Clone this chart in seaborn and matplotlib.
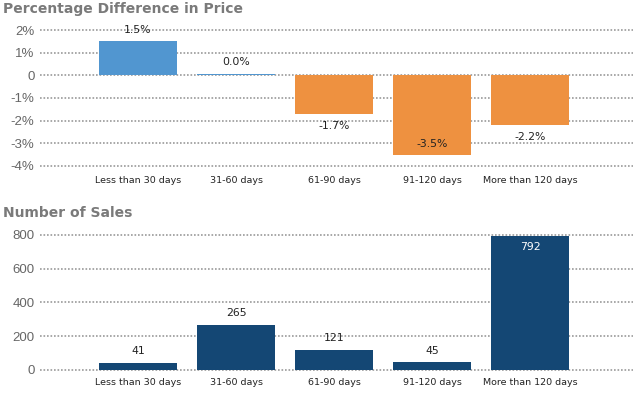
import matplotlib
matplotlib.use('Agg')
import matplotlib.pyplot as plt
import seaborn as sns
import numpy as np

# data
categories = ['Less than 30 days', '31-60 days', '61-90 days', '91-120 days', 'More than 120 days']
pct_diff = [1.5, 0.07, -1.7, -3.5, -2.2]
pct_labels = ['1.5%', '0.0%', '-1.7%', '-3.5%', '-2.2%']
sales = [41, 265, 121, 45, 792]
pct_ticks = [2, 1, 0, -1, -2, -3, -4]
pct_tick_labels = ['2%', '1%', '0', '-1%', '-2%', '-3%', '-4%']
sales_ticks = [0, 200, 400, 600, 800]

BLUE = '#5196D0'
ORANGE = '#EE9140'
NAVY = '#144774'
GRID = '#9a9a9a'

sns.set_theme(style='white')
plt.rcParams['font.family'] = ['DejaVu Sans']

fig = plt.figure(figsize=(6.33, 4.0), dpi=100)
ax1 = fig.add_axes([40 / 633, 1 - 170.5 / 400, 593 / 633, 145 / 400])
ax2 = fig.add_axes([40 / 633, 1 - 372.5 / 400, 593 / 633, 142.6 / 400])


def style_axis(ax):
    for s in ax.spines.values():
        s.set_visible(False)
    ax.set_axisbelow(True)
    ax.yaxis.grid(True, color=GRID, linestyle=(0, (1, 1.1)), linewidth=1.2)
    ax.xaxis.grid(False)
    ax.tick_params(axis='y', length=0, pad=4, labelsize=9.5, labelcolor='#666666')
    ax.tick_params(axis='x', length=0, labelsize=6.8, labelcolor='#222222')
    for lbl in ax.get_yticklabels():
        lbl.set_family('Liberation Sans')
    ax.set_xlabel('')
    ax.set_ylabel('')
    ax.set_xlim(-1, 5.05)


def label_bars(ax, values, texts, limit, inside_color):
    for i, (v, t) in enumerate(zip(values, texts)):
        inside = abs(v) > 0.85 * limit
        sign = 1 if v >= 0 else -1
        if inside:
            off = -8 * sign
            col = inside_color
        else:
            off = 8.5 * sign
            col = '#222222'
        ax.annotate(t, (i, v), xytext=(0, off), textcoords='offset points',
                    ha='center', va='center', fontsize=7.8, color=col)


# top panel
pct_colors = [BLUE if v >= 0 else ORANGE for v in pct_diff]
sns.barplot(x=categories, y=pct_diff, hue=categories, palette=pct_colors,
            legend=False, width=0.8, saturation=1, linewidth=0, ax=ax1)
ax1.set_ylim(-4.2, 2.2)
ax1.set_yticks(pct_ticks)
ax1.set_yticklabels(pct_tick_labels)
style_axis(ax1)
ax1.tick_params(axis='x', pad=4)
label_bars(ax1, pct_diff, pct_labels, 4, '#222222')

# bottom panel
sns.barplot(x=categories, y=sales, color=NAVY, width=0.8, saturation=1,
            linewidth=0, ax=ax2)
ax2.set_ylim(-15, 830)
ax2.set_yticks(sales_ticks)
ax2.set_yticklabels([str(t) for t in sales_ticks])
style_axis(ax2)
ax2.tick_params(axis='x', pad=4)
label_bars(ax2, sales, [str(s) for s in sales], 800, 'white')

fig.text(3 / 633, 1 - 9 / 400, 'Percentage Difference in Price', fontsize=10,
         fontweight='bold', color='#7a7a7a', va='center', ha='left')
fig.text(3 / 633, 1 - 213 / 400, 'Number of Sales', fontsize=10,
         fontweight='bold', color='#7a7a7a', va='center', ha='left')

fig.savefig('out.png', dpi=100)
